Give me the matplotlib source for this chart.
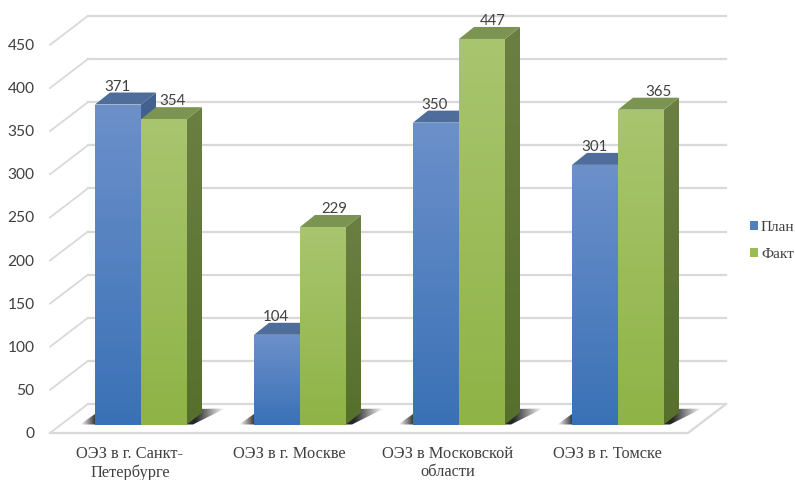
import numpy as np
import matplotlib
matplotlib.use('Agg')
import matplotlib.pyplot as plt
from matplotlib.patches import Polygon, Patch
from matplotlib.colors import LinearSegmentedColormap

categorias = ['ОЭЗ в г. Санкт-\nПетербурге', 'ОЭЗ в г. Москве',
              'ОЭЗ в Московской\nобласти', 'ОЭЗ в г. Томске']
plan = [371, 104, 350, 301]
fakt = [354, 229, 447, 365]
ticks = [0, 50, 100, 150, 200, 250, 300, 350, 400, 450]

# escala: pixeles por unidad
px_x = 159.0
px_y = 0.8625
x0_px = 141.0   # centro del primer grupo
y0_px = 424.5   # base de las barras

prof_x = 15 / px_x    # profundidad de las barras
prof_y = 12 / px_y
ancho = 46 / px_x

fig = plt.figure(figsize=(7.95, 4.8), dpi=100)
ax = fig.add_axes([0, 0, 1, 1])
ax.axis('off')
xlim = (-x0_px / px_x, (795 - x0_px) / px_x)
ylim = ((y0_px - 480) / px_y, y0_px / px_y)


def gradiente(x1, x2, y1, y2, c_arriba, c_abajo, clip, zorder):
    cmap = LinearSegmentedColormap.from_list('g', [c_arriba, c_abajo])
    im = ax.imshow(np.linspace(0, 1, 128).reshape(-1, 1), cmap=cmap, aspect='auto',
                   extent=(x1, x2, y1, y2), zorder=zorder, interpolation='bilinear')
    im.set_clip_path(clip)


def barra(x, v, col, z):
    izq, der = x, x + ancho
    frente = Polygon([(izq, 0), (der, 0), (der, v), (izq, v)], transform=ax.transData, fc='none', ec='none')
    ax.add_patch(frente)
    gradiente(izq, der, 0, v, col['arriba'], col['abajo'], frente, z + 0.2)
    lado = Polygon([(der, 0), (der + prof_x, prof_y), (der + prof_x, v + prof_y), (der, v)],
                   transform=ax.transData, fc='none', ec='none')
    ax.add_patch(lado)
    gradiente(der, der + prof_x, 0, v + prof_y, col['lado_arriba'], col['lado_abajo'], lado, z)
    ax.add_patch(Polygon([(izq, v), (der, v), (der + prof_x, v + prof_y), (izq + prof_x, v + prof_y)],
                         fc=col['tapa'], ec='none', zorder=z + 0.1))


azul = {'arriba': '#6c90ca', 'abajo': '#3a71b6', 'lado_arriba': '#44618f', 'lado_abajo': '#2f5385', 'tapa': '#4f6d9b'}
verde = {'arriba': '#a9c56f', 'abajo': '#8fb346', 'lado_arriba': '#6b7f42', 'lado_abajo': '#56702c', 'tapa': '#7c9452'}

# rejilla
gris = '#d9d9d9'
g_dx = 38 / px_x
g_dy = 29 / px_y
g_x_frente = (50 - x0_px) / px_x
g_x_fondo = g_x_frente + g_dx
g_x_fin = (726 - x0_px) / px_x
g_y0 = -8.5 / px_y   # el plano frontal de la rejilla queda bajo las barras
for t in ticks:
    y = t + g_y0
    ax.plot([g_x_frente, g_x_fondo], [y, y + g_dy], color=gris, lw=1.3, zorder=1)
    ax.plot([g_x_fondo, g_x_fin], [y + g_dy, y + g_dy], color=gris, lw=1.6, zorder=1)
    ax.text(g_x_frente - 15.5 / px_x, y - 1 / px_y, str(t), ha='right', va='center',
            fontsize=11.2, color='#404040', family='Lato')
ax.plot([g_x_frente, g_x_fin - g_dx, g_x_fin], [g_y0, g_y0, g_y0 + g_dy], color=gris, lw=1.6, zorder=1)

# sombras sobre el piso
sombra = LinearSegmentedColormap.from_list('s', [(0, (0.15, 0.15, 0.15, 0)), (0.11, (0.15, 0.15, 0.15, 1)),
                                                 (0.8, (0.15, 0.15, 0.15, 1)), (1, (0.15, 0.15, 0.15, 0))])
for i in range(len(categorias)):
    pol = Polygon([(i - 61 / px_x, 0), (i - 41 / px_x, 14 / px_y), (i + 84 / px_x, 16 / px_y), (i + 52 / px_x, 0)],
                  transform=ax.transData, fc='none', ec='none')
    ax.add_patch(pol)
    im = ax.imshow(np.linspace(0, 1, 128).reshape(1, -1), cmap=sombra, aspect='auto',
                   extent=(i - 61 / px_x, i + 84 / px_x, 0, 16 / px_y), zorder=2, interpolation='bilinear')
    im.set_clip_path(pol)

# barras
for i in range(len(categorias)):
    barra(i - ancho, plan[i], azul, 3)
    barra(i, fakt[i], verde, 4)

# etiquetas de datos
despl_fakt = [8, 11, 11, 17]
for i in range(len(categorias)):
    ax.text(i - ancho / 2 - 1 / px_x, plan[i] + 11 / px_y, str(plan[i]), ha='center', va='bottom',
            fontsize=10.8, color='#404040', family='Lato', zorder=6)
    ax.text(i + ancho / 2 + despl_fakt[i] / px_x, fakt[i] + 11 / px_y, str(fakt[i]), ha='center', va='bottom',
            fontsize=10.8, color='#404040', family='Lato', zorder=6)
    ax.text(i - 11 / px_x, -21 / px_y, categorias[i], ha='center', va='top', fontsize=11.8,
            color='#404040', family='Liberation Serif', linespacing=1.25)

ax.set_xlim(xlim)
ax.set_ylim(ylim)

ax.legend(handles=[Patch(fc='#4f81bd', label='План'), Patch(fc='#9bbb59', label='Факт')],
          loc='center left', bbox_to_anchor=(749.5 / 795, 1 - 241 / 480), frameon=False,
          prop={'family': 'Liberation Serif', 'size': 11}, labelcolor='#404040',
          handlelength=0.55, handleheight=0.55, handletextpad=0.2, labelspacing=0.95,
          borderpad=0, borderaxespad=0)

fig.savefig('out.png', dpi=100)
